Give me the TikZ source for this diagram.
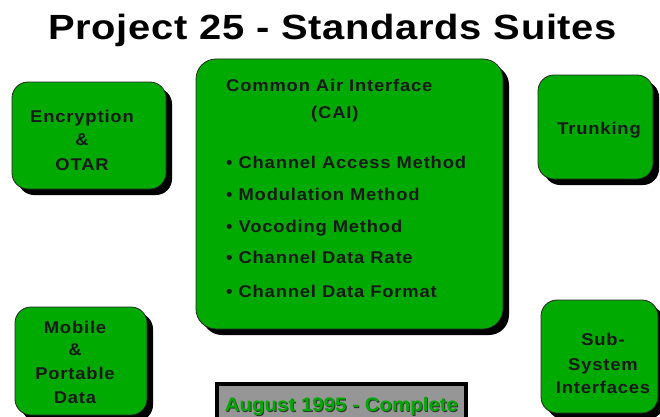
\documentclass[tikz,border=0pt]{standalone}
\usepackage{fontspec}
\setmainfont{Liberation Sans}
\newfontfamily\titlefont[FakeStretch=1.14,LetterSpace=2]{Liberation Sans}
\newfontfamily\boxfont[FakeStretch=1.08,LetterSpace=5]{Liberation Sans}
\newfontfamily\statusfont[FakeStretch=1.05]{Liberation Sans}
\usetikzlibrary{shadows}
\definecolor{p25green}{RGB}{0,170,0}
\definecolor{p25gray}{RGB}{150,150,150}
\tikzset{
  suitebox/.style={draw=black!85, line width=0.8pt, fill=p25green, rounded corners=16pt,
    drop shadow={shadow xshift=6pt, shadow yshift=-6pt, fill=black, opacity=1},
    inner sep=0pt},
  boxtext/.style={font=\boxfont\bfseries\fontsize{17}{20}\selectfont, text=black!90, inner sep=0pt, anchor=base},
  listtext/.style={boxtext, anchor=base west},
  statustext/.style={font=\statusfont\bfseries\fontsize{19.5}{22}\selectfont, inner sep=0pt, anchor=base},
}
\begin{document}
\begin{tikzpicture}[x=1pt,y=1pt]
\path[use as bounding box, clip] (0,0) rectangle (660,416);
\fill[white] (0,0) rectangle (660,416);

% title
\node[font=\titlefont\bfseries\fontsize{35}{40}\selectfont, inner sep=0pt, anchor=base] (title) at (332.5,376) {Project 25 - Standards Suites};

% suite boxes
\node[suitebox, minimum width=154pt, minimum height=107pt] (enc) at (89,280.5) {};
\node[suitebox, minimum width=307pt, minimum height=270pt, rounded corners=20pt] (cai) at (349.5,222) {};
\node[suitebox, minimum width=115pt, minimum height=104pt] (trunk) at (595.5,289) {};
\node[suitebox, minimum width=132pt, minimum height=108pt] (mobile) at (81,55) {};
\node[suitebox, minimum width=117pt, minimum height=113pt] (subsys) at (599.5,59.5) {};

% box labels
\node[boxtext] (enc1) at (82,294) {Encryption};
\node[boxtext] (enc2) at (82,271) {\&};
\node[boxtext] (enc3) at (82,246) {OTAR};

\node[boxtext] (trunk1) at (599,282) {Trunking};

\node[boxtext] (mob1) at (75,83) {Mobile};
\node[boxtext] (mob2) at (75,61) {\&};
\node[boxtext] (mob3) at (75,37) {Portable};
\node[boxtext] (mob4) at (75,13) {Data};

\node[boxtext] (sub1) at (603,71) {Sub-};
\node[boxtext] (sub2) at (603,46) {System};
\node[boxtext] (sub3) at (603,23) {Interfaces};

\node[listtext] (caihead) at (226,325) {Common Air Interface};
\node[listtext] (caiabbr) at (311,298) {(CAI)};
\node[listtext] (cai1) at (226,248) {• Channel Access Method};
\node[listtext] (cai2) at (226,216) {• Modulation Method};
\node[listtext] (cai3) at (226,184) {• Vocoding Method};
\node[listtext] (cai4) at (226,153) {• Channel Data Rate};
\node[listtext] (cai5) at (226,119) {• Channel Data Format};

% status banner
\node[draw=black, line width=4pt, fill=p25gray, minimum width=249pt, minimum height=46pt, inner sep=0pt] (status) at (341.5,9) {};
\node[statustext, text=black!80] (statusshadow) at (342.5,4) {August 1995 - Complete};
\node[statustext, text=p25green] (statuslabel) at (341.5,5) {August 1995 - Complete};
\end{tikzpicture}
\end{document}
